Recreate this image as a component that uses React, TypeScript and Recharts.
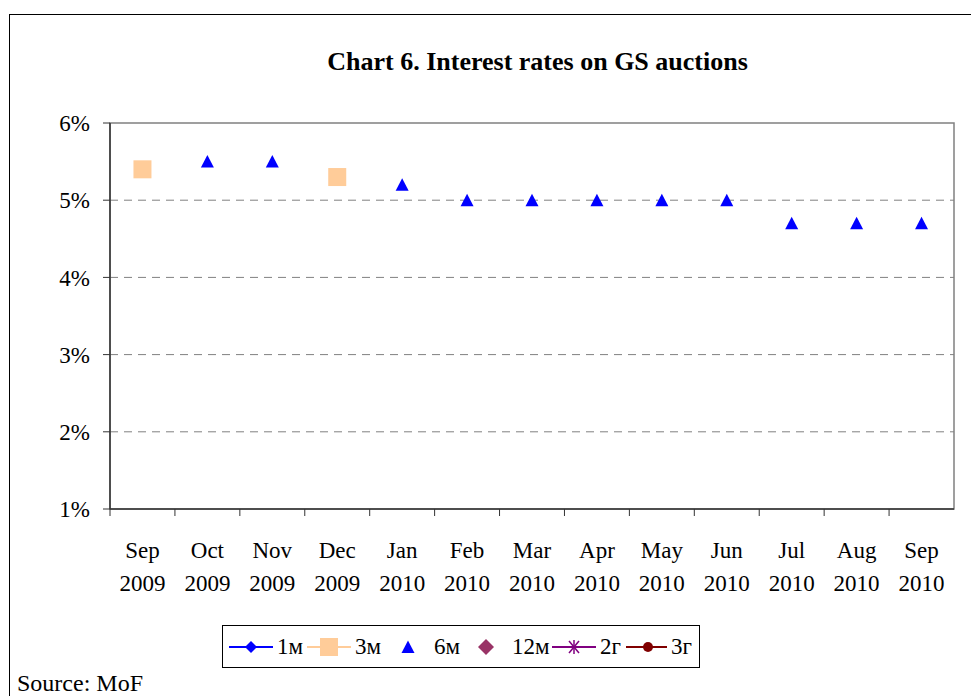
import { ComposedChart, Line, XAxis, YAxis, CartesianGrid, Legend, ReferenceArea } from "recharts";

const months = [
  "Sep 2009", "Oct 2009", "Nov 2009", "Dec 2009", "Jan 2010", "Feb 2010", "Mar 2010",
  "Apr 2010", "May 2010", "Jun 2010", "Jul 2010", "Aug 2010", "Sep 2010",
];
const rate1m: (number | null)[] = [null, null, null, null, null, null, null, null, null, null, null, null, null];
const rate3m: (number | null)[] = [5.4, null, null, 5.3, null, null, null, null, null, null, null, null, null];
const rate6m: (number | null)[] = [null, 5.5, 5.5, null, 5.2, 5.0, 5.0, 5.0, 5.0, 5.0, 4.7, 4.7, 4.7];
const rate12m: (number | null)[] = [null, null, null, null, null, null, null, null, null, null, null, null, null];
const rate2y: (number | null)[] = [null, null, null, null, null, null, null, null, null, null, null, null, null];
const rate3y: (number | null)[] = [null, null, null, null, null, null, null, null, null, null, null, null, null];
const yTicks = [1, 2, 3, 4, 5, 6];

const data = months.map((m, i) => ({
  month: m,
  m1: rate1m[i],
  m3: rate3m[i],
  m6: rate6m[i],
  m12: rate12m[i],
  y2: rate2y[i],
  y3: rate3y[i],
}));

const FONT = "'Liberation Serif', 'Times New Roman', serif";
const TICK = 7;

const marker = (key: string, cx: number, cy: number) => {
  switch (key) {
    case "m1":
      return <polygon points={`${cx},${cy - 6} ${cx + 6},${cy} ${cx},${cy + 6} ${cx - 6},${cy}`} fill="#0000FF" />;
    case "m3":
      return <rect x={cx - 9} y={cy - 9} width={18} height={18} fill="#FFCC99" />;
    case "m6":
      return <polygon points={`${cx},${cy - 6.5} ${cx + 6.5},${cy + 6} ${cx - 6.5},${cy + 6}`} fill="#0000FF" />;
    case "m12":
      return <polygon points={`${cx},${cy - 8} ${cx + 8},${cy} ${cx},${cy + 8} ${cx - 8},${cy}`} fill="#993366" />;
    case "y2":
      return (
        <g stroke="#800080" strokeWidth={1.5}>
          <line x1={cx - 5} y1={cy - 6} x2={cx + 5} y2={cy + 6} />
          <line x1={cx + 5} y1={cy - 6} x2={cx - 5} y2={cy + 6} />
          <line x1={cx} y1={cy - 7} x2={cx} y2={cy + 7} />
        </g>
      );
    case "y3":
      return <circle cx={cx} cy={cy} r={5} fill="#800000" />;
    default:
      return null;
  }
};

const dotFor = (key: string) => (p: any) => {
  if (p.value == null || p.cx == null || p.cy == null) return <g key={p.index} />;
  return <g key={p.index}>{marker(key, p.cx, p.cy)}</g>;
};

const XTick = ({ x, y, payload }: any) => {
  const [mon, yr] = String(payload.value).split(" ");
  const off = payload.offset ?? 0;
  return (
    <g>
      <line x1={x - off} x2={x - off} y1={y - TICK} y2={y} stroke="#333" />
      <text x={x} y={y} textAnchor="middle" fontFamily={FONT} fontSize={23} fill="#000">
        <tspan x={x} dy={42}>{mon}</tspan>
        <tspan x={x} dy={33}>{yr}</tspan>
      </text>
    </g>
  );
};

// legend entries (widths follow the reference legend box)
const series = [
  { key: "m1", name: "1м", color: "#0000FF", line: true, w: 78 },
  { key: "m3", name: "3м", color: "#FFCC99", line: true, w: 79 },
  { key: "m6", name: "6м", color: "#0000FF", line: false, w: 78 },
  { key: "m12", name: "12м", color: "#993366", line: false, w: 88 },
  { key: "y2", name: "2г", color: "#800080", line: true, w: 74 },
  { key: "y3", name: "3г", color: "#800000", line: true, w: 66 },
];

const LegendBox = () => (
  <div
    style={{
      border: "1px solid #000",
      display: "flex",
      alignItems: "center",
      width: 470,
      height: 41,
      paddingLeft: 6,
      fontFamily: FONT,
      fontSize: 23,
      background: "#fff",
      boxSizing: "content-box",
    }}
  >
    {series.map((s) => (
      <div key={s.key} style={{ display: "flex", alignItems: "center", width: s.w, flex: "none" }}>
        <svg width={44} height={24}>
          {s.line && <line x1={0} x2={44} y1={12} y2={12} stroke={s.color} strokeWidth={2} />}
          {marker(s.key, 22, 12)}
        </svg>
        <span style={{ marginLeft: 4, lineHeight: "24px" }}>{s.name}</span>
      </div>
    ))}
  </div>
);

export default function App() {
  return (
    <div style={{ position: "absolute", left: 0, top: 0, width: 971, height: 696, background: "#fff", overflow: "hidden" }}>
      <div
        style={{
          position: "absolute",
          left: 9,
          top: 14,
          width: 980,
          height: 700,
          border: "1.5px solid #000",
          boxSizing: "border-box",
        }}
      />
      <div
        style={{
          position: "absolute",
          left: 110,
          width: 855,
          top: 47,
          textAlign: "center",
          fontFamily: FONT,
          fontWeight: "bold",
          fontSize: 26,
        }}
      >
        Chart 6. Interest rates on GS auctions
      </div>
      <ComposedChart
        width={971}
        height={696}
        data={data}
        margin={{ top: 123, right: 17, left: 0, bottom: 0 }}
        style={{ position: "absolute", left: 0, top: 0 }}
      >
        <ReferenceArea y1={1} y2={6} fill="none" stroke="#808080" strokeWidth={1.5} ifOverflow="visible" />
        <CartesianGrid vertical={false} stroke="#808080" strokeDasharray="8 6" horizontalValues={[2, 3, 4, 5]} />
        <XAxis
          dataKey="month"
          scale="band"
          height={187}
          interval={0}
          tickSize={TICK}
          tickMargin={0}
          tickLine={false}
          axisLine={{ stroke: "#333", strokeWidth: 1.5 }}
          tick={<XTick />}
        />
        <YAxis
          width={110}
          domain={[1, 6]}
          ticks={yTicks}
          tickSize={TICK}
          tickMargin={13}
          tickFormatter={(v) => `${v}%`}
          tickLine={{ stroke: "#333" }}
          axisLine={{ stroke: "#333", strokeWidth: 1.5 }}
          tick={{ fontFamily: FONT, fontSize: 23, fill: "#000" }}
        />
        {series.map((s) => (
          <Line
            key={s.key}
            dataKey={s.key}
            name={s.name}
            stroke={s.line ? s.color : "none"}
            strokeWidth={2}
            connectNulls={false}
            dot={dotFor(s.key)}
            activeDot={false}
            isAnimationActive={false}
          />
        ))}
        <Legend
          layout="horizontal"
          verticalAlign="middle"
          align="center"
          content={<LegendBox />}
          wrapperStyle={{ left: 222, top: 625, width: "auto" }}
        />
      </ComposedChart>
      <div
        style={{
          position: "absolute",
          left: 17,
          top: 670,
          fontFamily: FONT,
          fontSize: 24,
          lineHeight: "26px",
        }}
      >
        Source: MoF
      </div>
    </div>
  );
}
